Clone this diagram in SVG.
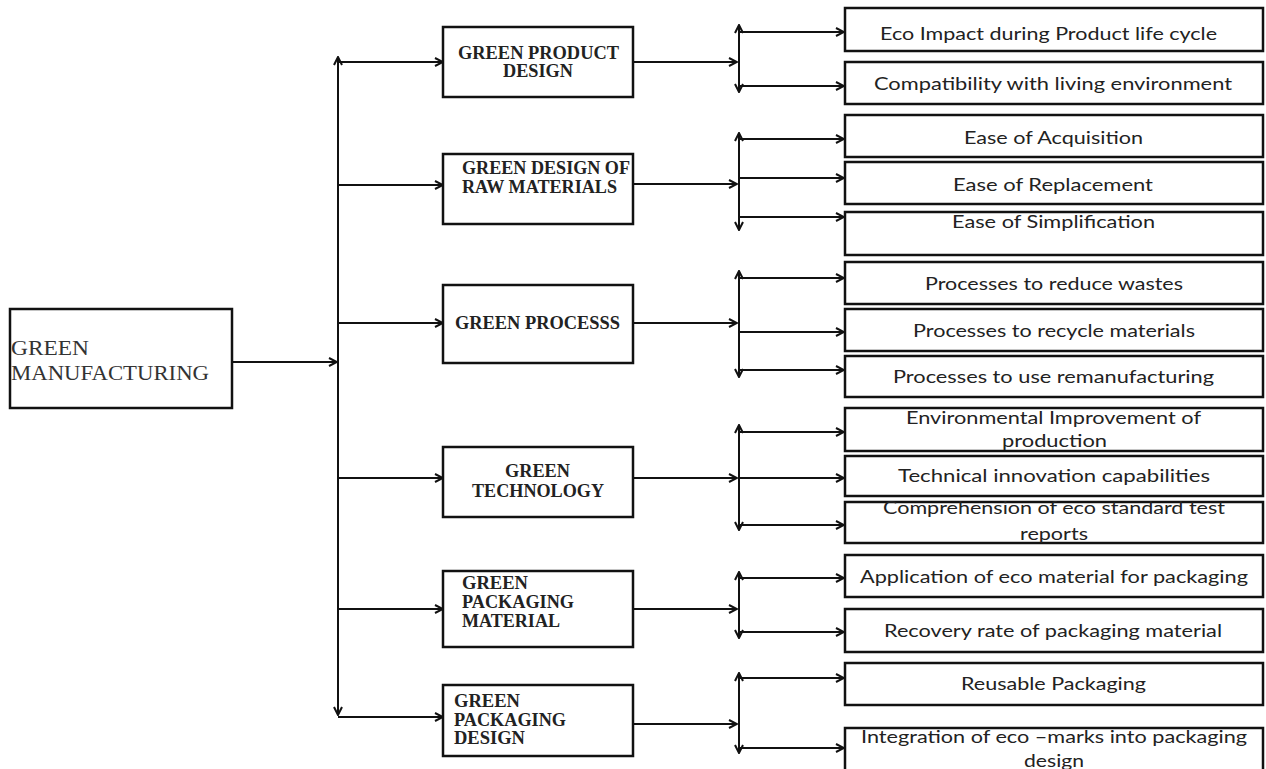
<svg xmlns="http://www.w3.org/2000/svg" width="1266" height="769" viewBox="0 0 1266 769">
<style>
.box{fill:#fff;stroke:#111;stroke-width:2.5}
.ln{fill:none;stroke:#111;stroke-width:2}
.arr{marker-end:url(#ah)}
.both{marker-start:url(#ah);marker-end:url(#ah)}
.mt{font-family:"Liberation Serif","Times New Roman",serif;font-size:18px;font-weight:bold;fill:#222}
.rt{font-family:Lato,"Liberation Sans",sans-serif;font-size:18px;fill:#222;text-anchor:middle}
.gm{font-family:"Liberation Serif","Times New Roman",serif;font-size:20px;fill:#333}
</style>
<defs>
<marker id="ah" viewBox="0 0 10 10" refX="9" refY="5" markerWidth="10" markerHeight="10" markerUnits="userSpaceOnUse" orient="auto-start-reverse">
<path d="M1,1 L9,5 L1,9" fill="none" stroke="#111" stroke-width="2"/>
</marker>
</defs>
<rect width="1266" height="769" fill="#fff"/>

<g id="connectors">
<path class="ln arr" d="M232,362 L337,362"/>
<path class="ln both" d="M338,57 L338,715"/>
<path class="ln arr" d="M338,62 L443,62"/>
<path class="ln arr" d="M338,185 L443,185"/>
<path class="ln arr" d="M338,323 L443,323"/>
<path class="ln arr" d="M338,478 L443,478"/>
<path class="ln arr" d="M338,609 L443,609"/>
<path class="ln arr" d="M338,717 L443,717"/>

<path class="ln arr" d="M633,62 L737,62"/>
<path class="ln both" d="M739,25 L739,92"/>
<path class="ln arr" d="M739,32 L844,32"/>
<path class="ln arr" d="M739,86 L844,86"/>

<path class="ln arr" d="M633,184 L737,184"/>
<path class="ln both" d="M739,133 L739,230"/>
<path class="ln arr" d="M739,139 L844,139"/>
<path class="ln arr" d="M739,178 L844,178"/>
<path class="ln arr" d="M739,217 L844,217"/>

<path class="ln arr" d="M633,323 L737,323"/>
<path class="ln both" d="M739,271 L739,377"/>
<path class="ln arr" d="M739,278 L844,278"/>
<path class="ln arr" d="M739,332 L844,332"/>
<path class="ln arr" d="M739,370 L844,370"/>

<path class="ln arr" d="M633,478 L737,478"/>
<path class="ln both" d="M739,425 L739,530"/>
<path class="ln arr" d="M739,432 L844,432"/>
<path class="ln arr" d="M739,478 L844,478"/>
<path class="ln arr" d="M739,525 L844,525"/>

<path class="ln arr" d="M633,609 L737,609"/>
<path class="ln both" d="M739,572 L739,638"/>
<path class="ln arr" d="M739,578 L844,578"/>
<path class="ln arr" d="M739,632 L844,632"/>

<path class="ln arr" d="M633,724 L737,724"/>
<path class="ln both" d="M739,673 L739,753"/>
<path class="ln arr" d="M739,678 L844,678"/>
<path class="ln arr" d="M739,748 L844,748"/>
</g>

<g id="green-manufacturing">
<rect class="box" x="10" y="309" width="222" height="99" stroke-width="2"/>
<text class="gm" x="11" y="355" textLength="78" lengthAdjust="spacingAndGlyphs">GREEN</text>
<text class="gm" x="11" y="380" textLength="198" lengthAdjust="spacingAndGlyphs">MANUFACTURING</text>
</g>

<g id="green-product-design">
<rect class="box" x="443" y="27" width="190" height="70"/>
<text class="mt" x="458" y="59" textLength="161" lengthAdjust="spacingAndGlyphs">GREEN PRODUCT</text>
<text class="mt" x="503" y="77" textLength="70" lengthAdjust="spacingAndGlyphs">DESIGN</text>
</g>

<g id="green-design-raw-materials">
<rect class="box" x="443" y="154" width="190" height="70"/>
<text class="mt" x="462" y="174" textLength="168" lengthAdjust="spacingAndGlyphs">GREEN DESIGN OF</text>
<text class="mt" x="462" y="193" textLength="155" lengthAdjust="spacingAndGlyphs">RAW MATERIALS</text>
</g>

<g id="green-processs">
<rect class="box" x="443" y="285" width="190" height="78"/>
<text class="mt" x="455" y="329" textLength="165" lengthAdjust="spacingAndGlyphs">GREEN PROCESSS</text>
</g>

<g id="green-technology">
<rect class="box" x="443" y="447" width="190" height="70"/>
<text class="mt" x="505" y="477" textLength="65" lengthAdjust="spacingAndGlyphs">GREEN</text>
<text class="mt" x="472" y="497" textLength="132" lengthAdjust="spacingAndGlyphs">TECHNOLOGY</text>
</g>

<g id="green-packaging-material">
<rect class="box" x="443" y="571" width="190" height="76"/>
<text class="mt" x="462" y="589" textLength="66" lengthAdjust="spacingAndGlyphs">GREEN</text>
<text class="mt" x="462" y="608" textLength="112" lengthAdjust="spacingAndGlyphs">PACKAGING</text>
<text class="mt" x="462" y="627" textLength="98" lengthAdjust="spacingAndGlyphs">MATERIAL</text>
</g>

<g id="green-packaging-design">
<rect class="box" x="443" y="685" width="190" height="71"/>
<text class="mt" x="454" y="707" textLength="66" lengthAdjust="spacingAndGlyphs">GREEN</text>
<text class="mt" x="454" y="726" textLength="112" lengthAdjust="spacingAndGlyphs">PACKAGING</text>
<text class="mt" x="454" y="744" textLength="71" lengthAdjust="spacingAndGlyphs">DESIGN</text>
</g>

<g id="eco-impact">
<rect class="box" x="845" y="8" width="418" height="43"/>
<text class="rt" x="1048.5" y="40" textLength="337" lengthAdjust="spacingAndGlyphs">Eco Impact during Product life cycle</text>
</g>
<g id="compatibility">
<rect class="box" x="845" y="62" width="418" height="42"/>
<text class="rt" x="1053" y="90" textLength="358" lengthAdjust="spacingAndGlyphs">Compatibility with living environment</text>
</g>
<g id="ease-acquisition">
<rect class="box" x="845" y="115" width="418" height="42"/>
<text class="rt" x="1053.5" y="144" textLength="179" lengthAdjust="spacingAndGlyphs">Ease of Acquisition</text>
</g>
<g id="ease-replacement">
<rect class="box" x="845" y="162" width="418" height="42"/>
<text class="rt" x="1053" y="191" textLength="200" lengthAdjust="spacingAndGlyphs">Ease of Replacement</text>
</g>
<g id="ease-simplification">
<rect class="box" x="845" y="212" width="418" height="43"/>
<text class="rt" x="1053.5" y="228" textLength="203" lengthAdjust="spacingAndGlyphs">Ease of Simplification</text>
</g>
<g id="reduce-wastes">
<rect class="box" x="845" y="262" width="418" height="42"/>
<text class="rt" x="1054" y="290" textLength="258" lengthAdjust="spacingAndGlyphs">Processes to reduce wastes</text>
</g>
<g id="recycle-materials">
<rect class="box" x="845" y="309" width="418" height="42"/>
<text class="rt" x="1054" y="337" textLength="282" lengthAdjust="spacingAndGlyphs">Processes to recycle materials</text>
</g>
<g id="remanufacturing">
<rect class="box" x="845" y="356" width="418" height="41"/>
<text class="rt" x="1053.5" y="383" textLength="321" lengthAdjust="spacingAndGlyphs">Processes to use remanufacturing</text>
</g>
<g id="environmental-improvement">
<rect class="box" x="845" y="408" width="418" height="43"/>
<text class="rt" x="1053.5" y="424" textLength="295" lengthAdjust="spacingAndGlyphs">Environmental Improvement of</text>
<text class="rt" x="1054.5" y="447" textLength="105" lengthAdjust="spacingAndGlyphs">production</text>
</g>
<g id="technical-innovation">
<rect class="box" x="845" y="456" width="418" height="40"/>
<text class="rt" x="1054" y="482" textLength="312" lengthAdjust="spacingAndGlyphs">Technical innovation  capabilities</text>
</g>
<g id="comprehension">
<rect class="box" x="845" y="502" width="418" height="41"/>
<text class="rt" x="1054" y="514" textLength="342" lengthAdjust="spacingAndGlyphs">Comprehension of eco standard test</text>
<text class="rt" x="1054" y="540" textLength="68" lengthAdjust="spacingAndGlyphs">reports</text>
</g>
<g id="application-eco-material">
<rect class="box" x="845" y="555" width="418" height="42"/>
<text class="rt" x="1054" y="583" textLength="388" lengthAdjust="spacingAndGlyphs">Application of eco material for  packaging</text>
</g>
<g id="recovery-rate">
<rect class="box" x="845" y="609" width="418" height="43"/>
<text class="rt" x="1053" y="637" textLength="338" lengthAdjust="spacingAndGlyphs">Recovery rate of packaging material</text>
</g>
<g id="reusable-packaging">
<rect class="box" x="845" y="663" width="418" height="42"/>
<text class="rt" x="1053.5" y="690" textLength="185" lengthAdjust="spacingAndGlyphs">Reusable Packaging</text>
</g>
<g id="integration-eco-marks">
<rect class="box" x="845" y="728" width="418" height="60"/>
<text class="rt" x="1054" y="743" textLength="386" lengthAdjust="spacingAndGlyphs">Integration of eco –marks into packaging</text>
<text class="rt" x="1054" y="767" textLength="60" lengthAdjust="spacingAndGlyphs">design</text>
</g>
</svg>
